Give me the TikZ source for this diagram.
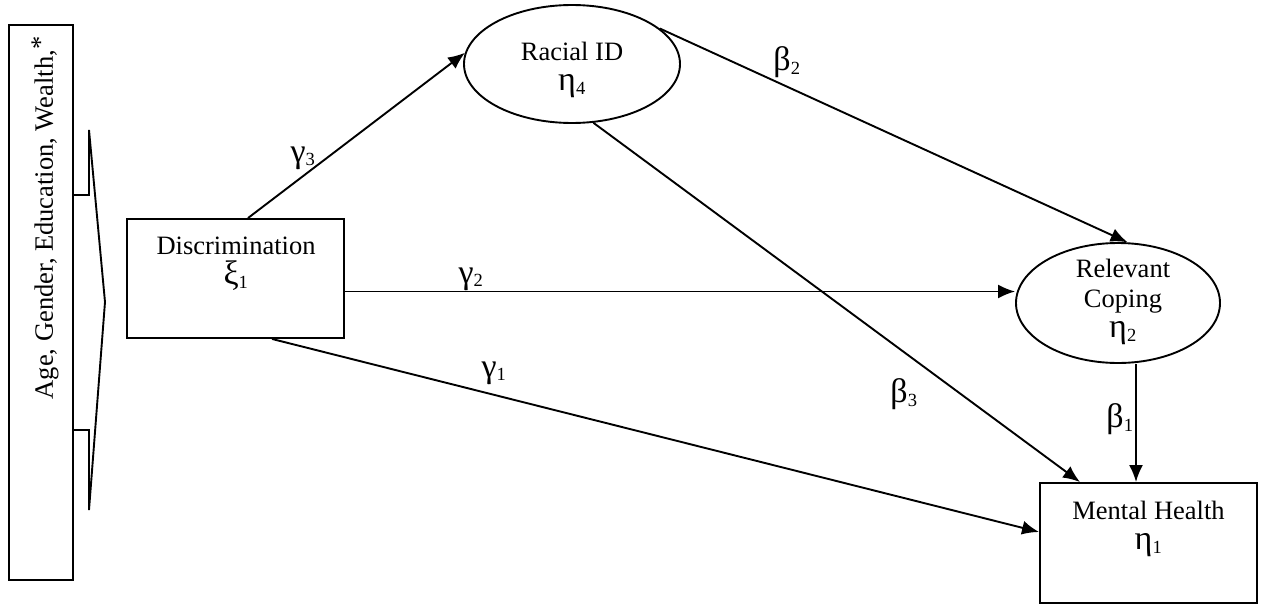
\documentclass[tikz,border=0pt]{standalone}
\usepackage{fontspec}
\setmainfont{Liberation Serif}
\usetikzlibrary{calc, shapes.geometric, positioning, arrows.meta}

% larger Greek letters, as in the figure
\newcommand{\gk}[1]{{\fontsize{34}{34}\selectfont #1}}

\begin{document}
\begin{tikzpicture}[x=1pt, y=-1pt, >={Latex[length=17pt, width=14pt]}, line width=1.9pt,
    every node/.style={font=\fontsize{26.5}{30}\selectfont},
    box/.style={draw, rectangle, inner sep=0pt},
    latent/.style={draw, ellipse, inner sep=0pt},
    coef/.style={inner sep=1pt}]

    \useasboundingbox (0,0) rectangle (1262,605);

    % =================================================================
    % 1. COVARIATES (LEFT BOX WITH ARROW SHAPE)
    % =================================================================
    \node[box, minimum width=64pt, minimum height=555pt] (covar) at (41,302.5) {};
    \node[rotate=90] (covartxt) at (45,218) {Age, Gender, Education, Wealth,\raisebox{4pt}{*}};
    \draw[line join=miter] (73,195) -- (89,195) -- (89,130) -- (105,302)
        -- (89,510) -- (89,430) -- (73,430);

    % =================================================================
    % 2. CONSTRUCTS
    % =================================================================
    \node[box, minimum width=217pt, minimum height=119pt] (disc) at (235.5,278.5) {};
    \node[align=center] (disctxt) at (236,264) {Discrimination\\\gk{ξ}\textsubscript{1}};

    \node[box, minimum width=217pt, minimum height=120pt] (mh) at (1148.5,543) {};
    \node[align=center] (mhtxt) at (1148.5,529) {Mental Health\\\gk{η}\textsubscript{1}};

    \node[latent, minimum width=216pt, minimum height=118pt] (racial) at (572,64) {};
    \node[align=center] (racialtxt) at (572,70) {Racial ID\\\gk{η}\textsubscript{4}};

    \node[latent, minimum width=204pt, minimum height=120pt] (coping) at (1118,303) {};
    \node[align=center] (copingtxt) at (1123,302) {Relevant\\Coping\\\gk{η}\textsubscript{2}};

    % =================================================================
    % 3. PATHS
    % =================================================================
    \coordinate (g2start) at ([yshift=-13pt]disc.east);
    \coordinate (copbot) at ([xshift=18pt]coping.south);

    \draw[->] ([xshift=12.5pt]disc.north) -- (racial.174);
    \draw[->] (g2start) -- (g2start -| coping.west);
    \draw[->] ([xshift=36.5pt]disc.south) -- ([yshift=11pt]mh.west);
    \draw[->] (racial.22) -- (coping.81);
    \draw[->] (racial.290) -- ([xshift=-68.5pt]mh.north);
    \draw[->] (copbot) -- (copbot |- mh.north);

    % =================================================================
    % 4. COEFFICIENT LABELS
    % =================================================================
    \node[coef] (gam3) at (303,158) {\gk{γ}\textsubscript{3}};
    \node[coef] (gam2) at (471,279) {\gk{γ}\textsubscript{2}};
    \node[coef] (gam1) at (494,373) {\gk{γ}\textsubscript{1}};
    \node[coef] (bet2) at (787,62) {\gk{β}\textsubscript{2}};
    \node[coef] (bet3) at (904,394) {\gk{β}\textsubscript{3}};
    \node[coef] (bet1) at (1120,419) {\gk{β}\textsubscript{1}};

\end{tikzpicture}
\end{document}
